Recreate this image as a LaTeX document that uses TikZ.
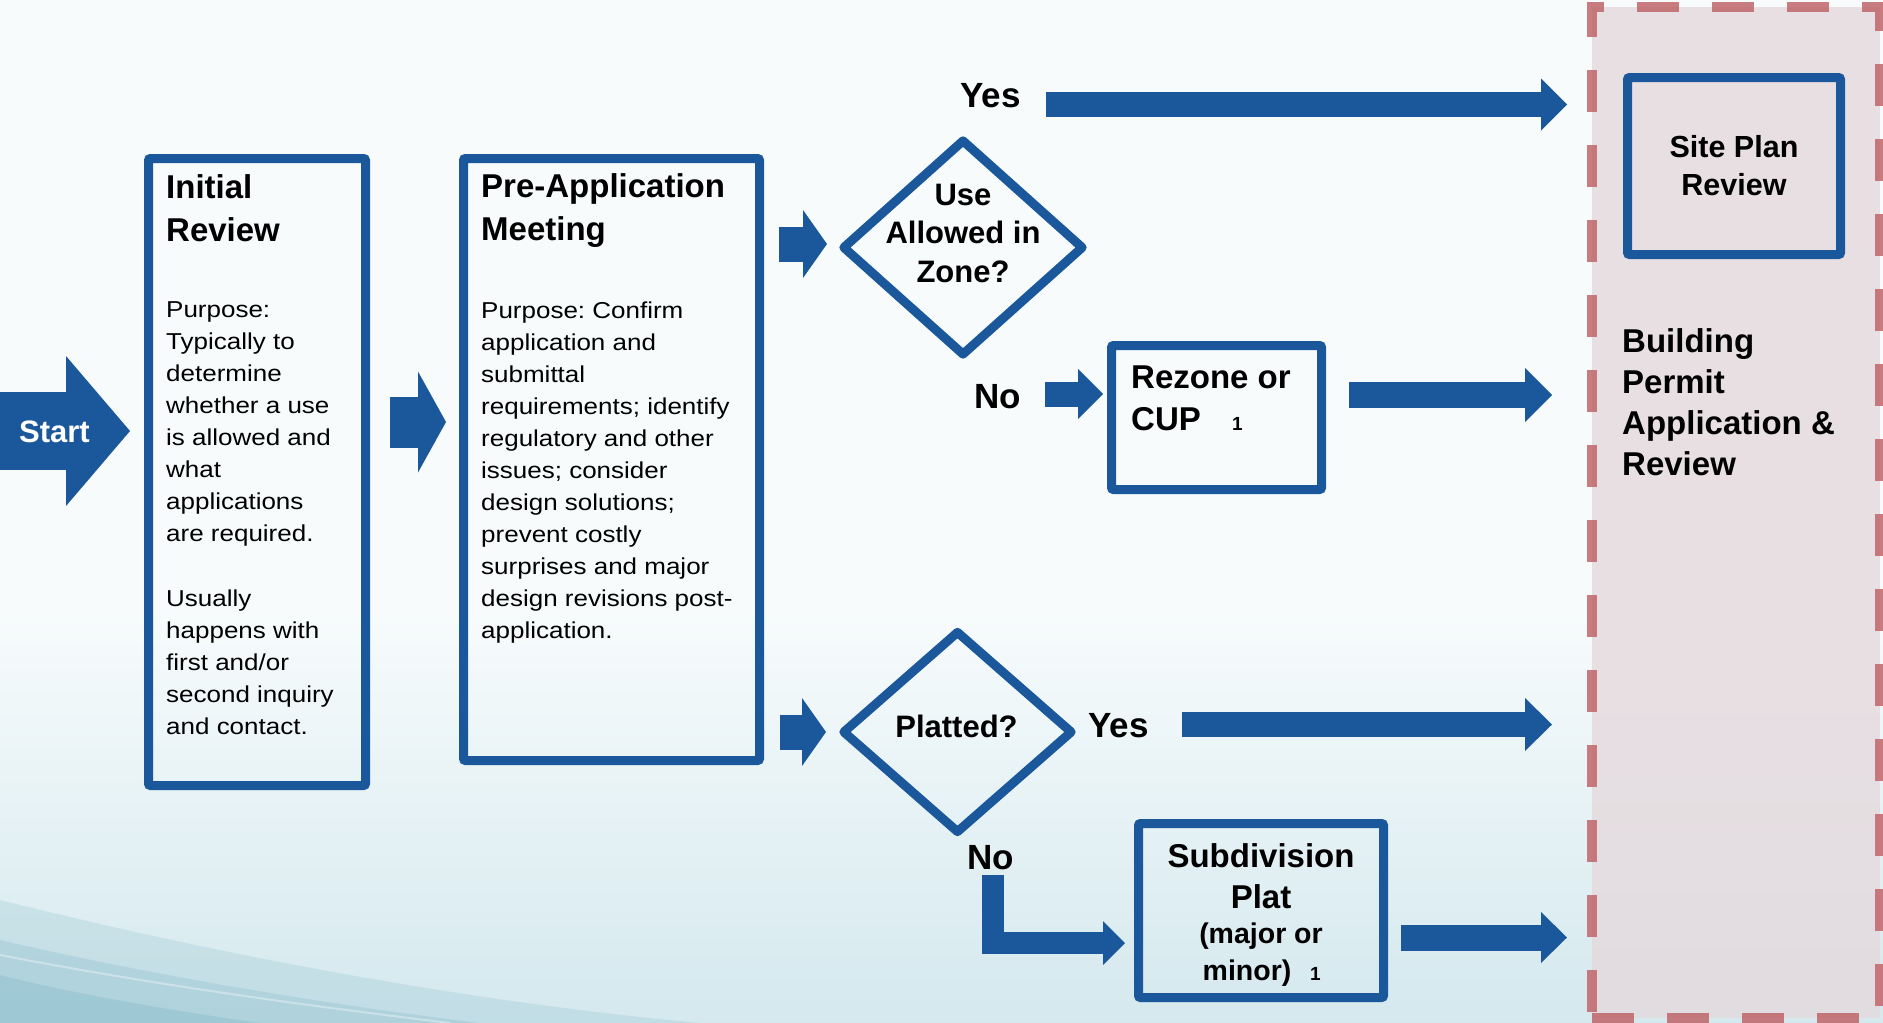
\documentclass[tikz,border=0pt]{standalone}
\usepackage{fontspec}
\setmainfont{Liberation Sans}
\newfontfamily\bodyfont[FakeStretch=1.13]{Liberation Sans}
\frenchspacing
\usetikzlibrary{arrows.meta,shapes.geometric}
\definecolor{myblue}{RGB}{27,87,155}
\definecolor{dashred}{RGB}{192,102,106}
\definecolor{regfill}{RGB}{229,217,221}
\definecolor{bgA}{RGB}{160,202,214}
\definecolor{bgB}{RGB}{200,226,233}
\definecolor{bgC}{RGB}{247,251,252}
\definecolor{swA}{RGB}{110,172,190}
\pgfdeclareverticalshading{bgsh}{100bp}{color(0bp)=(bgA); color(18bp)=(bgB); color(45bp)=(bgC); color(100bp)=(bgC)}
\tikzset{
  box/.style={rectangle, draw=myblue, line width=9pt, rounded corners=2pt, inner sep=0pt},
  dia/.style={diamond, draw=myblue, line width=9pt, inner sep=0pt, line join=round},
  blk/.style={draw=myblue, line join=miter},
  ttl/.style={font=\fontsize{33}{43}\selectfont\bfseries, inner sep=0pt, align=left, anchor=base west},
  bodytxt/.style={font=\bodyfont\fontsize{23}{32}\selectfont, inner sep=0pt, align=left, anchor=base west},
  lab/.style={font=\fontsize{35}{35}\selectfont\bfseries, inner sep=0pt, anchor=base west},
}
\begin{document}
\begin{tikzpicture}[x=1pt,y=-1pt]
\useasboundingbox (0,0) rectangle (1883,1023);
% background
\fill[shading=bgsh] (0,0) rectangle (1883,1023);
\fill[swA, opacity=0.18] (0,900) .. controls (200,950) and (450,1000) .. (700,1023) -- (0,1023) -- cycle;
\fill[swA, opacity=0.22] (0,940) .. controls (150,975) and (330,1005) .. (480,1023) -- (0,1023) -- cycle;
\fill[swA, opacity=0.25] (0,975) .. controls (80,995) and (180,1012) .. (260,1023) -- (0,1023) -- cycle;
\draw[white, opacity=0.35, line width=2pt] (0,955) .. controls (180,990) and (360,1012) .. (450,1023);

% dashed region
\node[rectangle, draw=dashred, draw opacity=0.85, line width=10pt, dash pattern=on 42pt off 33pt,
      fill=regfill, fill opacity=0.8, minimum width=288pt, minimum height=1011pt, inner sep=0pt] (bp) at (1736,512.5) {};

% boxes
\node[box, minimum width=217pt, minimum height=627pt] (init) at (257,472) {};
\node[box, minimum width=296pt, minimum height=602pt] (preapp) at (611.5,459.5) {};
\node[dia, minimum width=242pt, minimum height=217pt] (d1) at (963,247.5) {};
\node[dia, minimum width=231pt, minimum height=203pt] (d2) at (957.5,732) {};
\node[box, minimum width=210pt, minimum height=144pt] (rezone) at (1216.5,417.5) {};
\node[box, minimum width=245pt, minimum height=174pt] (subdiv) at (1261,910.5) {};
\node[box, minimum width=213pt, minimum height=177pt] (site) at (1734,166) {};

% texts (anchor base = baseline of the last line)
\node[ttl] (initT) at (166,241) {Initial\\Review};
\node[bodytxt] (initB) at (166,734) {Purpose:\\Typically to\\determine\\whether a use\\is allowed and\\what\\applications\\are required.\\[33pt]Usually\\happens with\\first and/or\\second inquiry\\and contact.};
\node[ttl] (preT) at (481,240) {Pre-Application\\Meeting};
\node[bodytxt] (preB) at (481,638) {Purpose: Confirm\\application and\\submittal\\requirements; identify\\regulatory and other\\issues; consider\\design solutions;\\prevent costly\\surprises and major\\design revisions post-\\application.};
\node[font=\fontsize{31}{38.5}\selectfont\bfseries, inner sep=0pt, align=center, anchor=base] (d1T) at (963,282) {Use\\Allowed in\\Zone?};
\node[font=\fontsize{31}{31}\selectfont\bfseries, inner sep=0pt, anchor=base] (d2T) at (956.5,737) {Platted?};
\node[font=\fontsize{33}{42}\selectfont\bfseries, inner sep=0pt, align=left, anchor=base west] (rzT) at (1131,430) {Rezone or\\CUP};
\node[font=\fontsize{19}{19}\selectfont\bfseries, inner sep=0pt, anchor=base west] (rz1) at (1232,430) {1};
\node[font=\fontsize{33}{41}\selectfont\bfseries, inner sep=0pt, align=center, anchor=base] (sdT) at (1261,908) {Subdivision\\Plat};
\node[font=\fontsize{28.5}{37}\selectfont\bfseries, inner sep=0pt, anchor=base] (sdM) at (1261,943) {(major or};
\node[font=\fontsize{28.5}{37}\selectfont\bfseries, inner sep=0pt, anchor=base] (sdN) at (1247,980) {minor)};
\node[font=\fontsize{19}{19}\selectfont\bfseries, inner sep=0pt, anchor=base west] (sd1) at (1310,980) {1};
\node[font=\fontsize{30.5}{38}\selectfont\bfseries, inner sep=0pt, align=center, anchor=base] (spT) at (1734,195) {Site Plan\\Review};
\node[font=\fontsize{33}{41}\selectfont\bfseries, inner sep=0pt, align=left, anchor=base west] (bpT) at (1622,475) {Building\\Permit\\Application \&\\Review};
\node[lab] (yes1) at (960,107) {Yes};
\node[lab] (no1) at (974,408) {No};
\node[lab] (yes2) at (1088,737) {Yes};
\node[lab] (no2) at (967,869) {No};

% block arrows
\coordinate (s0) at (0,431);
\draw[blk, line width=78pt, -{Triangle[length=64pt,width=150pt,line width=0pt]}] (s0) -- ([shift={(-14,-41)}]init.west);
\node[lab, text=white, font=\fontsize{31}{31}\selectfont\bfseries] (startT) at (19,442) {Start};
\draw[blk, line width=51pt, -{Triangle[length=28pt,width=101pt,line width=0pt]}] ([shift={(20,-50)}]init.east) -- ([shift={(-13,-37.5)}]preapp.west);
\draw[blk, line width=35pt, -{Triangle[length=24pt,width=68pt,line width=0pt]}] ([shift={(15,-215.5)}]preapp.east) -- ([shift={(-136,-3.5)}]d1.center);
\draw[blk, line width=35pt, -{Triangle[length=24pt,width=68pt,line width=0pt]}] ([shift={(16,272.5)}]preapp.east) -- ([shift={(-131.5,0)}]d2.center);
\draw[blk, line width=25pt, -{Triangle[length=26pt,width=52pt,line width=0pt]}] ([shift={(25,-2.5)}]yes1.base east) -- ([shift={(-20,-408)}]bp.west);
\draw[blk, line width=25pt, -{Triangle[length=25pt,width=50pt,line width=0pt]}] ([shift={(24,-14)}]no1.base east) -- ([shift={(-4,-23.5)}]rezone.west);
\draw[blk, line width=26pt, -{Triangle[length=27pt,width=54pt,line width=0pt]}] ([shift={(23,-22.5)}]rezone.east) -- ([shift={(-35,-117.5)}]bp.west);
\draw[blk, line width=25pt, -{Triangle[length=27pt,width=53pt,line width=0pt]}] ([shift={(33,-12.5)}]yes2.base east) -- ([shift={(-35,212)}]bp.west);
\draw[blk, line width=22pt, -{Triangle[length=22pt,width=44pt,line width=0pt]}] ([shift={(26,6)}]no2.base west) |- ([shift={(-9,32.5)}]subdiv.west);
\draw[blk, line width=26pt, -{Triangle[length=26pt,width=51pt,line width=0pt]}] ([shift={(13,27)}]subdiv.east) -- ([shift={(-20,425)}]bp.west);
\end{tikzpicture}
\end{document}
